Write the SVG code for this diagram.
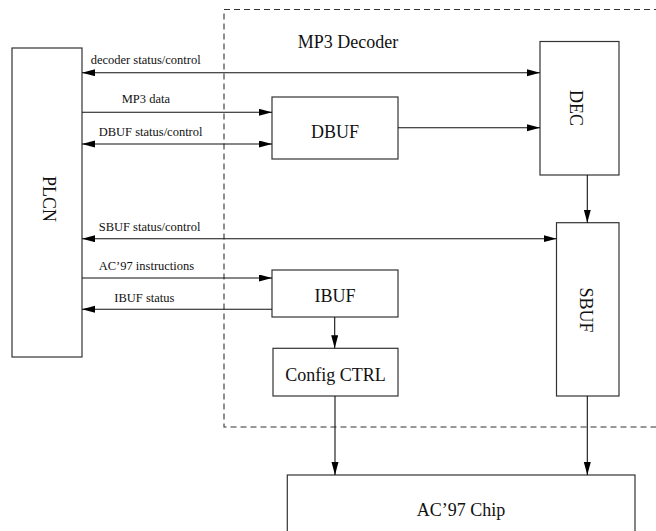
<svg xmlns="http://www.w3.org/2000/svg" width="656" height="531" viewBox="0 0 656 531">
  <style>
    .box { fill: #fff; stroke: #333; stroke-width: 1.2; }
    .wire { fill: none; stroke: #111; stroke-width: 1.1; marker-end: url(#head); }
    .both { marker-start: url(#head); }
    .frame { fill: none; stroke: #333; stroke-width: 1.1; stroke-dasharray: 6 4; }
    .lbl { font-family: "Liberation Serif", "Times New Roman", serif; font-size: 12.5px; fill: #111; }
    .name { font-family: "Liberation Serif", "Times New Roman", serif; font-size: 18px; fill: #111; text-anchor: middle; }
  </style>
  <defs>
    <marker id="head" markerUnits="userSpaceOnUse" markerWidth="14" markerHeight="8" refX="13" refY="3.5" orient="auto-start-reverse">
      <path d="M0,0 L13,3.5 L0,7 Z" fill="#000"/>
    </marker>
  </defs>
  <rect width="656" height="531" fill="#fff"/>

  <!-- MP3 decoder boundary -->
  <g id="mp3-decoder">
    <path class="frame" d="M660,9.5 H224 V427 H660"/>
    <text class="name" x="348" y="48">MP3 Decoder</text>
  </g>

  <g id="plcn">
    <rect class="box" x="12" y="48" width="70" height="309"/>
    <text class="name" transform="translate(43,199) rotate(90)">PLCN</text>
  </g>
  <g id="dec">
    <rect class="box" x="540" y="41.5" width="79" height="133.5"/>
    <text class="name" transform="translate(570,108) rotate(90)">DEC</text>
  </g>
  <g id="dbuf">
    <rect class="box" x="272" y="97" width="126" height="62"/>
    <text class="name" x="335" y="137.5">DBUF</text>
  </g>
  <g id="sbuf">
    <rect class="box" x="556.5" y="222.7" width="62.5" height="173.3"/>
    <text class="name" transform="translate(579.5,310) rotate(90)">SBUF</text>
  </g>
  <g id="ibuf">
    <rect class="box" x="272" y="270" width="126" height="47"/>
    <text class="name" x="335" y="302.3">IBUF</text>
  </g>
  <g id="config-ctrl">
    <rect class="box" x="273" y="348.3" width="125" height="47.7"/>
    <text class="name" x="335.5" y="380.7">Config CTRL</text>
  </g>
  <g id="ac97-chip">
    <rect class="box" x="287.3" y="475" width="347.7" height="70"/>
    <text class="name" x="461" y="515.7">AC’97 Chip</text>
  </g>

  <!-- connectors -->
  <g id="connectors">
    <path class="wire both" d="M82,72.7 H540"/>
    <path class="wire" d="M82,112.3 H272"/>
    <path class="wire both" d="M82,144 H272"/>
    <path class="wire" d="M398,127.7 H540"/>
    <path class="wire" d="M587.3,175 V222.7"/>
    <path class="wire both" d="M82,238.7 H556.5"/>
    <path class="wire" d="M82,278 H272"/>
    <path class="wire" d="M272,309.3 H82"/>
    <path class="wire" d="M334.7,317 V348.3"/>
    <path class="wire" d="M335,396 V475"/>
    <path class="wire" d="M587.3,396 V475"/>

    <text class="lbl" x="90.7" y="64.3">decoder status/control</text>
    <text class="lbl" x="121.7" y="103.3">MP3 data</text>
    <text class="lbl" x="98.7" y="135.7">DBUF status/control</text>
    <text class="lbl" x="98.7" y="230.7">SBUF status/control</text>
    <text class="lbl" x="98.7" y="270">AC’97 instructions</text>
    <text class="lbl" x="114.3" y="302">IBUF status</text>
  </g>
</svg>
